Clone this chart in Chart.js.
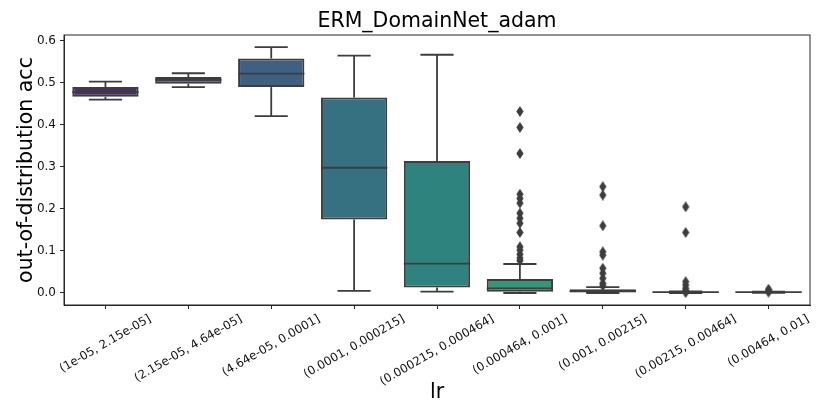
<!DOCTYPE html>
<html>
<head>
<meta charset="utf-8">
<script src="https://cdn.jsdelivr.net/npm/chart.js@4.4.1/dist/chart.umd.min.js"></script>
<style>
	html, body { margin: 0; padding: 0; background: #fff; }
	#wrap { width: 830px; height: 415px; }
</style>
</head>
<body>
<div id="wrap"><canvas id="boxChart" width="830" height="415"></canvas></div>
<script>
const categories = [
	'(1e-05, 2.15e-05]',
	'(2.15e-05, 4.64e-05]',
	'(4.64e-05, 0.0001]',
	'(0.0001, 0.000215]',
	'(0.000215, 0.000464]',
	'(0.000464, 0.001]',
	'(0.001, 0.00215]',
	'(0.00215, 0.00464]',
	'(0.00464, 0.01]',
];
const whiskerLow = [0.460, 0.490, 0.421, 0.005, 0.003, 0.000, 0.000, 0.000, 0.0005];
const q1 = [0.467, 0.498, 0.490, 0.175, 0.013, 0.003, 0.002, 0.001, 0.001];
const medians = [0.478, 0.507, 0.522, 0.298, 0.070, 0.011, 0.004, 0.002, 0.002];
const q3 = [0.490, 0.514, 0.558, 0.465, 0.314, 0.033, 0.009, 0.003, 0.0025];
const whiskerHigh = [0.503, 0.523, 0.585, 0.565, 0.567, 0.069, 0.014, 0.004, 0.003];
const outliers = [
	[],
	[],
	[],
	[],
	[],
	[0.432, 0.394, 0.332, 0.235, 0.225, 0.214, 0.190, 0.178, 0.166, 0.144, 0.110, 0.102, 0.092, 0.083, 0.077],
	[0.253, 0.233, 0.160, 0.098, 0.090, 0.059, 0.047, 0.035, 0.023, 0.017],
	[0.205, 0.144, 0.027, 0.019, 0.011, 0.006, 0.001],
	[0.009, 0.006, 0.002],
];
const yTicks = [0.0, 0.1, 0.2, 0.3, 0.4, 0.5, 0.6];

// viridis, desaturated like seaborn does
const boxColors = ['#4a2e6c', '#4a4c7e', '#406082', '#367181', '#2f837e', '#33977c', '#53b075', '#80c161', '#aec836'];
const lineColor = '#3d3d3d';
const font = 'DejaVu Sans';

const outlierPoints = [];
outliers.forEach((vals, i) => {
	vals.forEach((v) => outlierPoints.push({ x: categories[i], y: v }));
});

// thin diamond marker like matplotlib 'd'
const diamond = document.createElement('canvas');
diamond.width = 8;
diamond.height = 11;
(() => {
	const c = diamond.getContext('2d');
	c.fillStyle = lineColor;
	c.beginPath();
	c.moveTo(4, 0);
	c.lineTo(7.6, 5.5);
	c.lineTo(4, 11);
	c.lineTo(0.4, 5.5);
	c.closePath();
	c.fill();
})();

const boxExtras = {
	id: 'boxExtras',
	afterDatasetsDraw(chart) {
		const { ctx } = chart;
		const y = chart.scales.y;
		const meta = chart.getDatasetMeta(0);
		ctx.save();
		ctx.strokeStyle = lineColor;
		ctx.lineWidth = 1.8;
		const seg = (x1, y1, x2, y2) => {
			ctx.beginPath();
			ctx.moveTo(x1, y1);
			ctx.lineTo(x2, y2);
			ctx.stroke();
		};
		categories.forEach((c, i) => {
			const bar = meta.data[i];
			const cx = bar.x;
			const half = bar.width / 2;
			const cap = half / 2;
			const yHi = y.getPixelForValue(whiskerHigh[i]);
			const yLo = y.getPixelForValue(whiskerLow[i]);
			seg(cx, y.getPixelForValue(q3[i]), cx, yHi);
			seg(cx - cap, yHi, cx + cap, yHi);
			seg(cx, y.getPixelForValue(q1[i]), cx, yLo);
			seg(cx - cap, yLo, cx + cap, yLo);
			const ym = y.getPixelForValue(medians[i]);
			seg(cx - half, ym, cx + half, ym);
		});
		ctx.restore();
	},
	afterDraw(chart) {
		const { ctx, chartArea: a } = chart;
		const x = chart.scales.x;
		ctx.save();
		// frame
		ctx.strokeStyle = '#262626';
		ctx.lineWidth = 1;
		ctx.strokeRect(a.left, a.top, a.right - a.left, a.bottom - a.top);

		ctx.fillStyle = '#000';
		// title
		ctx.font = '20.5px "' + font + '"';
		ctx.textAlign = 'center';
		ctx.textBaseline = 'alphabetic';
		ctx.fillText('ERM_DomainNet_adam', (a.left + a.right) / 2, 27);

		// x axis label
		ctx.fillText('lr', (a.left + a.right) / 2, 398);

		// y axis label
		ctx.save();
		ctx.translate(32, (a.top + a.bottom) / 2);
		ctx.rotate(-Math.PI / 2);
		ctx.fillText('out-of-distribution acc', 0, 0);
		ctx.restore();

		// rotated tick labels, centred on the tick
		ctx.font = '11.8px "' + font + '"';
		ctx.fillStyle = '#111';
		ctx.textBaseline = 'middle';
		const ang = Math.PI / 6;
		categories.forEach((c, i) => {
			const tx = x.getPixelForTick(i);
			const w = ctx.measureText(c).width;
			const h = 11.8;
			const H = w * Math.sin(ang) + h * Math.cos(ang);
			const cy = a.bottom + 8 + H / 2;
			ctx.save();
			ctx.translate(tx, cy);
			ctx.rotate(-ang);
			ctx.fillText(c, 0, 0);
			ctx.restore();
		});
		ctx.restore();
	},
};

new Chart(document.getElementById('boxChart'), {
	type: 'bar',
	data: {
		labels: categories,
		datasets: [
			{
				label: 'box',
				data: categories.map((c, i) => [q1[i], q3[i]]),
				backgroundColor: boxColors,
				borderColor: lineColor,
				borderWidth: 2,
				borderSkipped: false,
				categoryPercentage: 0.8,
				barPercentage: 1.0,
			},
			{
				label: 'outliers',
				type: 'line',
				data: outlierPoints,
				showLine: false,
				pointStyle: diamond,
				pointRadius: 4,
			},
		],
	},
	options: {
		responsive: false,
		animation: false,
		layout: { padding: { top: 35, right: 20, left: 0, bottom: 0 } },
		plugins: {
			legend: { display: false },
			title: { display: false },
			tooltip: { enabled: false },
		},
		scales: {
			x: {
				type: 'category',
				offset: true,
				grid: {
					offset: false,
					drawOnChartArea: false,
					drawTicks: true,
					tickLength: 4,
					color: '#262626',
				},
				border: { display: true, color: '#262626' },
				ticks: { display: false },
				afterFit(scale) {
					scale.height = 110;
				},
			},
			y: {
				min: -0.0286,
				max: 0.614,
				grid: {
					drawOnChartArea: false,
					drawTicks: true,
					tickLength: 4,
					color: '#262626',
				},
				border: { display: true, color: '#262626' },
				afterBuildTicks(scale) {
					scale.ticks = yTicks.map((v) => ({ value: v }));
				},
				ticks: {
					padding: 4,
					color: '#111',
					font: { family: font, size: 12 },
					callback: (v) => Number(v).toFixed(1),
				},
				afterFit(scale) {
					scale.width = 64;
				},
			},
		},
	},
	plugins: [boxExtras],
});
</script>
</body>
</html>
